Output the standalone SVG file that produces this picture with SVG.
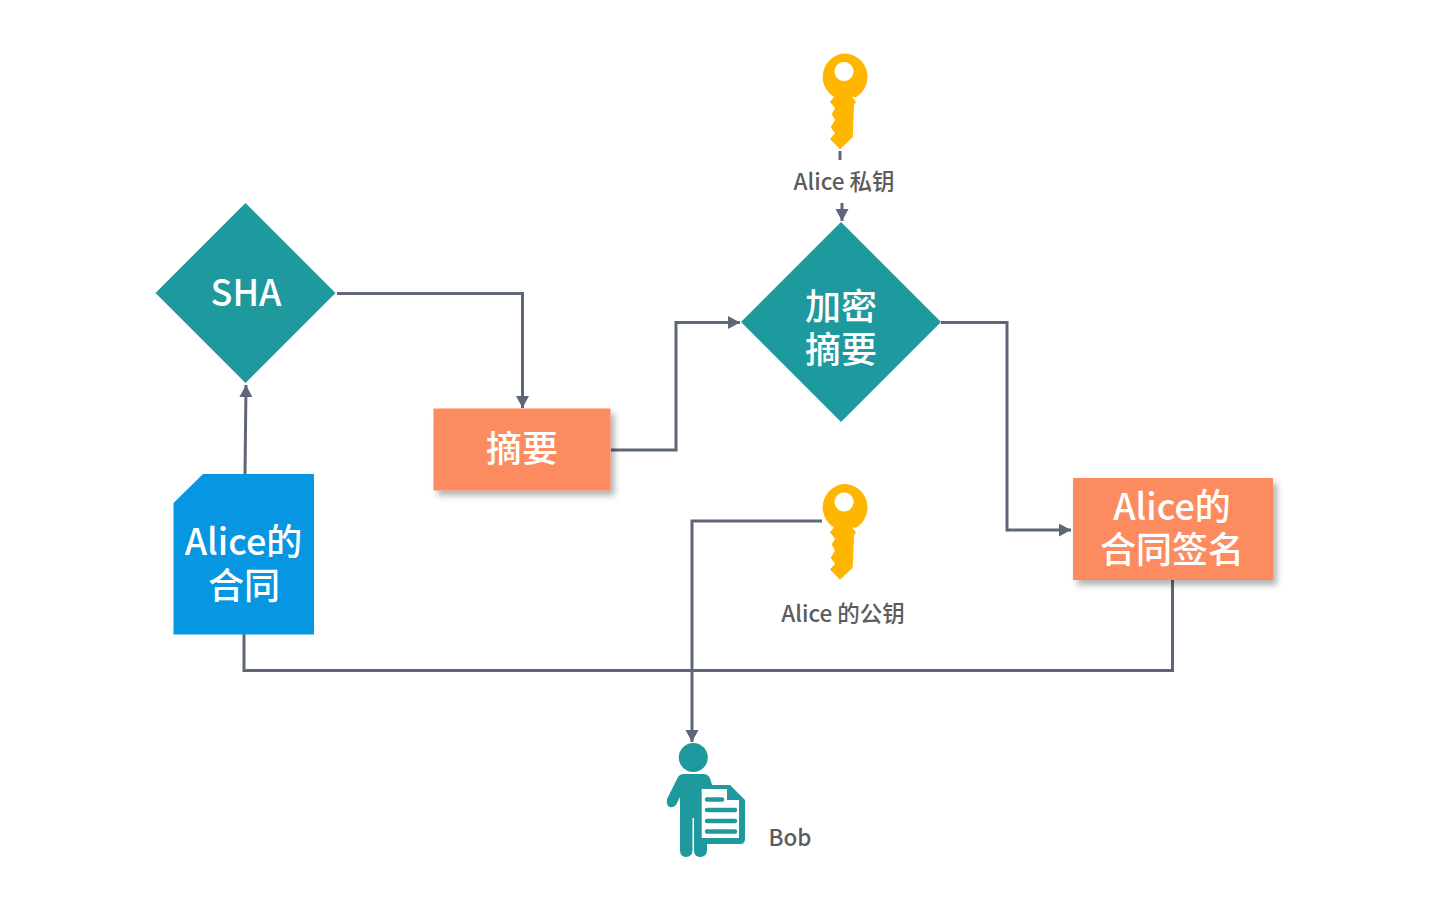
<svg xmlns="http://www.w3.org/2000/svg" width="1437" height="898" viewBox="0 0 1437 898">
<style>
text{font-family:"Noto Sans CJK SC","Noto Sans",sans-serif;text-anchor:middle;font-weight:500}
.w{fill:#fff;font-size:36px}
.g{fill:#5c5c5c;font-size:22.5px}
.c{fill:none;stroke:#5f6679;stroke-width:3}
.t{fill:#1e9a9e}
.o{fill:#fc8c60;filter:url(#s)}
.k{fill:#ffb600}
</style>
<defs>
<filter id="s" x="-10%" y="-15%" width="125%" height="135%"><feDropShadow dx="4" dy="5" stdDeviation="3" flood-color="#000" flood-opacity=".3"/></filter>
<marker id="a" markerUnits="userSpaceOnUse" markerWidth="13" markerHeight="14" refX="12" refY="6.500" orient="auto"><path d="M0 0L12 6.500L0 13z" fill="#5f6679"/></marker>
<g id="key"><path class="k" fill-rule="evenodd" d="M844 53.500a23.500 23.500 0 0 1 12 43.700L851.700 96.700L856 101.700L854 105L852.700 137.300L840 149.300L830 139L835 133.300L830.700 127.300L835 120L831.700 114L835 108.300L830 101.700L834 97a23.500 23.500 0 0 1 10-43.500zM844 62a9.500 9.500 0 1 0 .1 0z"/></g>
</defs>
<g id="connectors">
<path class="c" d="M337 293.500H522.500V408" marker-end="url(#a)"/>
<path class="c" d="M611 450H676V322.500H740" marker-end="url(#a)"/>
<path class="c" d="M941 322.500H1007V530H1071" marker-end="url(#a)"/>
<path class="c" d="M245 474L246 385" marker-end="url(#a)"/>
<path class="c" d="M840 151V160"/>
<path class="c" d="M842 203V221" marker-end="url(#a)"/>
<path class="c" d="M244 634V670.500H1172.500V580"/>
<path class="c" d="M822 521H692V742" marker-end="url(#a)"/>
</g>
<g id="sha"><path class="t" d="M245.500 203L335.500 293L245.500 383L155.500 293z"/><text class="w" x="246" y="306">SHA</text></g>
<g id="contract"><path fill="#0796e2" d="M203 474H314V634.500H173.500V503z"/><text class="w" x="243.500" y="555">Alice的</text><text class="w" x="244" y="598.500">合同</text></g>
<g id="digest"><rect class="o" x="433.500" y="408.500" width="177" height="82"/><text class="w" x="522" y="462">摘要</text></g>
<g id="encrypt"><path class="t" d="M841 222L941 322L841 422L741 322z"/><text class="w" x="841" y="320">加密</text><text class="w" x="841" y="363">摘要</text></g>
<g id="signature"><rect class="o" x="1073" y="478" width="200" height="102"/><text class="w" x="1172" y="520">Alice的</text><text class="w" x="1172" y="563">合同签名</text></g>
<g id="private-key"><use href="#key"/><text class="g" x="844" y="190">Alice 私钥</text></g>
<g id="public-key"><use href="#key" y="430.500"/><text class="g" x="843" y="622">Alice 的公钥</text></g>
<g id="bob">
<circle class="t" cx="693.300" cy="757.500" r="14.500"/>
<path class="t" d="M684 774H704Q710 774 712 785L707 800V850Q707 857 700 857Q694 857 694 850V818H692.500V850Q692.500 857 686 857Q680 857 680 850V797L676 805Q672 809 668 806Q666 803 667 799L677 779Q679 774 684 774z"/>
<path class="t" d="M705 785H730L745 800V839Q745 844 740 844H701z"/>
<path fill="#fff" d="M701.700 789H727V800H739V838H701.700z"/>
<path stroke="#1e9a9e" stroke-width="4.500" stroke-linecap="round" fill="none" d="M707 799.500H722M707 810H735M707 821H735M707 831.500H735"/>
<text class="g" x="790" y="845.500">Bob</text>
</g>
</svg>
